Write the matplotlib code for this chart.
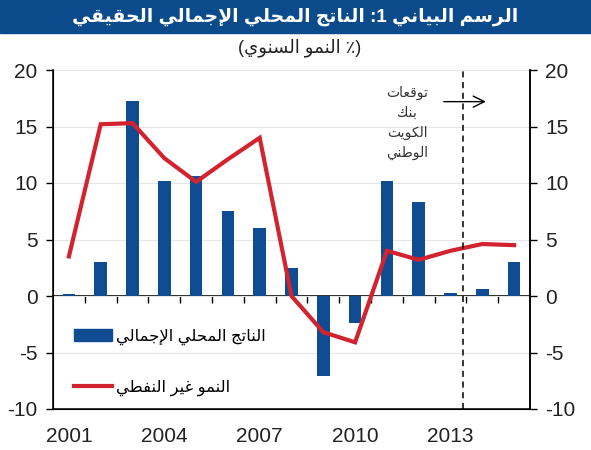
import unicodedata
import numpy as np
import matplotlib
matplotlib.use("Agg")
import matplotlib.pyplot as plt
from matplotlib.patches import Rectangle, Patch
from matplotlib.lines import Line2D

plt.rcParams['font.family'] = ['Liberation Sans', 'DejaVu Sans']
plt.rcParams['axes.unicode_minus'] = False

# data
years = list(range(2001, 2016))
gdp = [0.2, 3.0, 17.3, 10.2, 10.6, 7.5, 6.0, 2.5, -7.1, -2.4, 10.2, 8.3, 0.3, 0.6, 3.0]
non_oil = [3.5, 15.2, 15.3, 12.2, 10.1, 12.1, 14.0, 0.0, -3.2, -4.1, 4.0, 3.2, 4.0, 4.6, 4.5]
year_labels = ['2001', '2004', '2007', '2010', '2013']
forecast_start = 12.4   # split between actual and forecast

title = 'الرسم البياني 1: الناتج المحلي الإجمالي الحقيقي'
subtitle = '(٪ النمو السنوي)'
label_gdp = 'الناتج المحلي الإجمالي'
label_non_oil = 'النمو غير النفطي'
note = ['توقعات', 'بنك', 'الكويت', 'الوطني']


# tiny arabic shaper: pick presentation forms then flip to visual order
RIGHT_ONLY = set('اأإآدذرزوؤةىء')


def is_ar(c):
    return '\u0621' <= c <= '\u064A'


def joins_next(c):
    return is_ar(c) and c not in RIGHT_ONLY


def form(c, f):
    try:
        return unicodedata.lookup(unicodedata.name(c) + ' ' + f + ' FORM')
    except KeyError:
        return c


def ar(s):
    res = []
    i = 0
    while i < len(s):
        c = s[i]
        jp = i > 0 and joins_next(s[i - 1])
        if c == 'ل' and i + 1 < len(s) and s[i + 1] in 'اأإآ':
            nm = 'ARABIC LIGATURE LAM WITH ' + unicodedata.name(s[i + 1])[len('ARABIC LETTER '):]
            res.append(unicodedata.lookup(nm + (' FINAL FORM' if jp else ' ISOLATED FORM')))
            i += 2
            continue
        if is_ar(c):
            jn = joins_next(c) and i + 1 < len(s) and is_ar(s[i + 1])
            f = {(True, True): 'MEDIAL', (True, False): 'FINAL',
                 (False, True): 'INITIAL', (False, False): 'ISOLATED'}[(jp, jn)]
            res.append(form(c, f))
        else:
            res.append(c)
        i += 1
    out = ''.join(reversed(res))
    return out.translate(str.maketrans('()', ')('))


fig = plt.figure(figsize=(5.91, 4.5), dpi=100)
fig.patches.append(Rectangle((0, 1 - 33 / 450), 1, 33 / 450, transform=fig.transFigure,
                             color='#0B4A8B', zorder=0))
fig.text(0.5, 0.962, ar(title), color='white', fontsize=13.5, fontweight='bold',
         ha='center', va='center')
fig.text(0.507, 0.895, ar(subtitle), color='#222222', fontsize=13, ha='center', va='center')

ax = fig.add_axes([53 / 591, 1 - 409 / 450, (530 - 53) / 591, (409 - 70) / 450])
x = np.arange(len(years))

ax.bar(x, gdp, width=0.4, color='#0F4C92', zorder=3)
ax.plot(x, non_oil, color='#D2232F', lw=3, zorder=4, solid_joinstyle='miter')

ax.set_xlim(-0.5, len(years) - 0.5)
ax.set_ylim(-10, 20)
ax.set_yticks(range(-10, 21, 5))
ax.yaxis.grid(True, color='#E6E6E6', lw=0.8, zorder=0)
ax.set_axisbelow(True)

ax.set_xticks([years.index(int(y)) for y in year_labels])
ax.set_xticklabels(year_labels)
ax.tick_params(axis='x', length=0, pad=13, labelsize=15, labelcolor='#222222')
ax.tick_params(axis='y', direction='out', length=5, width=1, labelsize=15,
               labelcolor='#222222', pad=6)
ax.spines['top'].set_visible(False)
for s in ['left', 'right', 'bottom']:
    ax.spines[s].set_color('black')
    ax.spines[s].set_linewidth(1.1)

# zero line with little ticks between bars
zero = ax.secondary_xaxis(0, transform=ax.transData)
zero.set_xticks(np.arange(0.5, len(years) - 1, 1))
zero.set_xticklabels([])
zero.tick_params(direction='out', length=5, width=1, color='black')
zero.spines['bottom'].set_linewidth(1.2)

ax2 = ax.twinx()
ax2.set_ylim(-10, 20)
ax2.set_yticks(range(-10, 21, 5))
ax2.tick_params(axis='y', direction='out', length=5, width=1, labelsize=15,
                labelcolor='#222222', pad=6)
ax2.spines['top'].set_visible(False)
ax2.spines['right'].set_linewidth(1.1)

ax.axvline(forecast_start, color='black', lw=1.1, ls=(0, (4, 3)), zorder=5)
ax.annotate('', xy=(13.2, 17.2), xytext=(11.7, 17.2),
            arrowprops=dict(arrowstyle='->', lw=1, color='black', mutation_scale=20))
ax.text(10.63, 15.3, '\n'.join(ar(w) for w in note), ha='center', va='center',
        fontsize=10, color='#333333', linespacing=1.55)

handles = [Patch(color='#0F4C92'), Line2D([], [], color='#D2232F', lw=3)]
ax.legend(handles, [ar(label_gdp), ar(label_non_oil)], loc='upper left',
          bbox_to_anchor=(0.045, 0.237), frameon=False, fontsize=11.8,
          handlelength=2.3, handleheight=0.7, handletextpad=0.25,
          labelspacing=2.1, borderpad=0, borderaxespad=0)

fig.savefig('out.png', dpi=100)
